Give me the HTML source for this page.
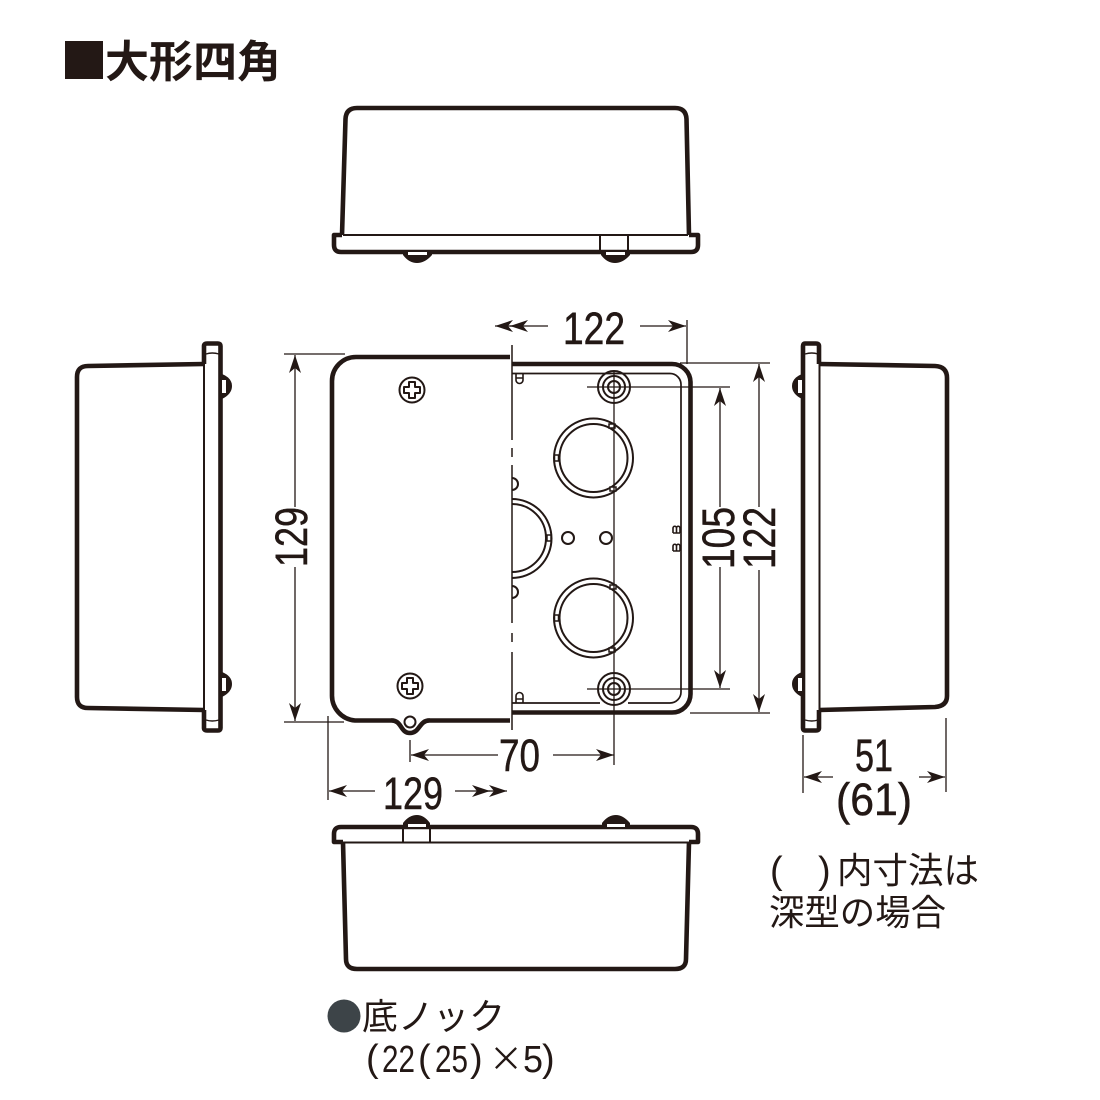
<!DOCTYPE html>
<html><head><meta charset="utf-8">
<style>
html,body{margin:0;padding:0;background:#fff;width:1100px;height:1100px;overflow:hidden}
svg{display:block}
.h{fill:none;stroke:#231815;stroke-width:4.6;stroke-linejoin:round}
.m{fill:none;stroke:#231815;stroke-width:2}
.t{fill:none;stroke:#231815;stroke-width:1.4}
.d{fill:none;stroke:#231815;stroke-width:1.3}
.n{font-family:"Liberation Sans",sans-serif;font-size:45px;fill:#231815;stroke:#231815;stroke-width:.5}
.j{font-family:"Liberation Sans","Noto Sans CJK JP",sans-serif;fill:#231815}
.p{font-family:"Liberation Sans",sans-serif;font-size:38px;fill:#231815}
</style></head><body>
<svg width="1100" height="1100" viewBox="0 0 1100 1100" xmlns="http://www.w3.org/2000/svg">
<defs>
<marker id="ar" markerUnits="userSpaceOnUse" markerWidth="24" markerHeight="16" refX="20" refY="8" orient="auto" overflow="visible">
<path d="M20,8 L2,2 L7,8 L2,14Z" fill="#231815"/>
</marker>
</defs>
<rect x="65" y="41" width="38" height="38" fill="#231815"/>
<text class="j" x="105" y="77" font-size="44" font-weight="700" textLength="176" lengthAdjust="spacingAndGlyphs">大形四角</text>

<!-- top view -->
<path class="h" d="M342,235 L345.500,119 Q346,108 357,108 L675,108 Q686,108 686.500,119 L689,235"/>
<path class="h" d="M342,235 H334 V245 Q334,252 341,252 H691 Q698,252 698,245 V235 H689"/>
<path class="m" d="M343,235 H688"/>
<path class="m" d="M600,236 V252 M628,236 V252"/>
<path d="M403,252 H432 V255 Q425,263 417,263 Q409,263 403,255Z M601,252 H630 V255 Q623,263 615,263 Q607,263 601,255Z" fill="#231815"/>
<path d="M408,252 H427 V255 H408Z M606,252 H625 V255 H606Z" fill="#fff"/>

<!-- bottom view -->
<path class="h" d="M343,842 L346,959 Q346,969 357,969 L675,969 Q686,969 686,959 L689,842"/>
<path class="h" d="M343,842 H334 V834 Q334,827 341,827 H691 Q698,827 698,834 V842 H689"/>
<path class="m" d="M343,842.500 H689"/>
<path class="m" d="M403,827 V842 M430,827 V842"/>
<path d="M403,827 V823 Q409,815 417,815 Q424,815 430,823 V827Z M602,827 V823 Q608,815 616,815 Q623,815 630,823 V827Z" fill="#231815"/>
<path d="M408,827 V824 H426 V827Z M607,827 V824 H625 V827Z" fill="#fff"/>

<!-- left view -->
<path class="h" d="M204,364 L88,366 Q77,366 77,377 L77,697 Q77,708 88,708 L204,710"/>
<path class="h" d="M204,364 V346 Q204,343.500 207,343.500 H218 Q220.500,343.500 220.500,346 V728 Q220.500,730.500 218,730.500 H207 Q204,730.500 204,728 V710"/>
<path class="m" d="M204,363 V711"/>
<path class="t" d="M206,354 Q212,352 219,354 M206,720 Q212,722 219,720"/>
<path d="M222,374 Q232,378 232,386 Q232,394 222,399Z M222,672 Q232,676 232,684 Q232,692 222,697Z" fill="#231815"/>
<path d="M222,380 H226 V393 H222Z M222,678 H226 V691 H222Z" fill="#fff"/>

<!-- right view -->
<path class="h" d="M819,364 L935,366 Q947,366.500 947,378 L947,696 Q947,706 935,707 L819,710"/>
<path class="h" d="M819,364 V346 Q819,343.500 816,343.500 H805 Q803,343.500 803,346 V728 Q803,730.500 805,730.500 H816 Q819,730.500 819,728 V710"/>
<path class="m" d="M819.500,363 V711"/>
<path class="t" d="M805,354 Q812,352 818,354 M805,720 Q812,722 818,720"/>
<path d="M802,374 Q792,378 792,386 Q792,394 802,399Z M802,672 Q792,676 792,684 Q792,692 802,697Z" fill="#231815"/>
<path d="M798,380 H802 V393 H798Z M798,678 H802 V691 H798Z" fill="#fff"/>

<!-- box -->
<path class="h" d="M512,364 H672 A18.500,18.500 0 0 1 690.500,382.500 V694 A18.500,18.500 0 0 1 672,712.500 H512"/>
<path class="m" d="M512,373.500 H670 A11,11 0 0 1 681,384.500 V692 A11,11 0 0 1 670,703 H628 M600,703 H512" style="stroke-width:1.700"/>
<circle cx="614" cy="387" r="16" class="m"/><circle cx="614" cy="387" r="11" class="m"/><circle cx="614" cy="387" r="6" class="m"/>
<circle cx="614" cy="689" r="16" class="m"/><circle cx="614" cy="689" r="11" class="m"/><circle cx="614" cy="689" r="6" class="m"/>
<circle cx="593.500" cy="458" r="39.500" class="m"/><circle cx="593.500" cy="458" r="34" class="m"/>
<circle cx="593.500" cy="618" r="39.500" class="m"/><circle cx="593.500" cy="618" r="34" class="m"/>
<g fill="#fff" stroke="#231815" stroke-width="1.500">
<rect x="554.500" y="455" width="4" height="6"/><rect x="609" y="424" width="6" height="4"/><rect x="610" y="487" width="6" height="4"/>
<rect x="554.500" y="615" width="4" height="6"/><rect x="610" y="585" width="6" height="4"/><rect x="609" y="648" width="6" height="4"/>
</g>
<path class="m" d="M512,499 A39.500,39.500 0 0 1 512,578 M512,504 A34,34 0 0 1 512,572"/>
<rect x="547" y="535" width="4" height="6" fill="#fff" stroke="#231815" stroke-width="1.500"/>
<circle cx="568" cy="538" r="6" class="m"/><circle cx="606" cy="538" r="6" class="m"/>
<path class="m" d="M512,478 A6,6 0 0 1 512,490 M512,586 A6,6 0 0 1 512,598"/>
<path class="t" style="stroke-width:1.600" d="M516,374 V380 A3.500,3.500 0 0 0 523,380 V374 M516,378 H523 M516,703 V696 A3.500,3.500 0 0 1 523,696 V703 M516,699 H523"/>
<path class="t" style="stroke-width:1.600" d="M673,533 V528 A1.750,1.750 0 0 1 676.500,528 V533 M676.500,528 A1.750,1.750 0 0 1 680,528 V533 M673,551 V546 A1.750,1.750 0 0 1 676.500,546 V551 M676.500,546 A1.750,1.750 0 0 1 680,546 V551 M673,533 H680 M673,551 H680"/>
<path class="m" style="stroke-width:1.500" d="M512,345 V440 M512,448 V457 M512,465 V623 M512,633 V642 M512,652 V730"/>

<!-- cover -->
<path d="M510,357 H356 A24,24 0 0 0 332,381 V695 A25,25 0 0 0 355,720.500 H391 C402,720 400,733 410,733 C420,733 419,720 430,720.500 H510Z" fill="#fff" stroke="none"/>
<path class="h" d="M510,357 H356 A24,24 0 0 0 332,381 V695 A25,25 0 0 0 355,720.500 H391 C402,720 400,733 410,733 C420,733 419,720 430,720.500 H510"/>
<circle cx="410" cy="722" r="5.500" class="m"/>
<circle cx="412" cy="390" r="12.500" class="m"/>
<path class="m" d="M409,382 H415 V387 H420 V393 H415 V398 H409 V393 H404 V387 H409Z" stroke-linejoin="round"/>
<circle cx="410" cy="686" r="12.500" class="m"/>
<path class="m" d="M407,678 H413 V683 H418 V689 H413 V694 H407 V689 H402 V683 H407Z" stroke-linejoin="round"/>

<!-- dims -->
<g class="d">
<path d="M687,320 V364"/>
<path d="M548,326 H495" marker-end="url(#ar)"/><path d="M520,326 H510" marker-end="url(#ar)"/>
<path d="M640,326 H686" marker-end="url(#ar)"/>
<path d="M284,354 H345 M284,722 H344"/>
<path d="M295,507 V355" marker-end="url(#ar)"/><path d="M295,567 V721" marker-end="url(#ar)"/>
<path d="M328,716 V800"/>
<path d="M375,791 H329" marker-end="url(#ar)"/>
<path d="M455,791 H490" marker-end="url(#ar)"/><path d="M485,791 H507" marker-end="url(#ar)"/>
<path d="M410,740 V762"/>
<path d="M498,755 H411" marker-end="url(#ar)"/>
<path d="M553,755 H614" marker-end="url(#ar)"/>
<path d="M614,372 V765"/>
<path d="M587,387 H730 M587,689 H730"/>
<path d="M720,507 V388" marker-end="url(#ar)"/><path d="M720,567 V688" marker-end="url(#ar)"/>
<path d="M680,363 H770 M690,713 H770"/>
<path d="M759,507 V364" marker-end="url(#ar)"/><path d="M759,570 V712" marker-end="url(#ar)"/>
<path d="M803,735 V793 M946,718 V792"/>
<path d="M833,777 H804" marker-end="url(#ar)"/><path d="M919,777 H945" marker-end="url(#ar)"/>
</g>
<text class="n" x="563" y="344" textLength="62" lengthAdjust="spacingAndGlyphs">122</text>
<text class="n" transform="translate(307,567) rotate(-90)" textLength="60" lengthAdjust="spacingAndGlyphs">129</text>
<text class="n" transform="translate(734,569) rotate(-90)" textLength="62" lengthAdjust="spacingAndGlyphs">105</text>
<text class="n" transform="translate(775,569) rotate(-90)" textLength="62" lengthAdjust="spacingAndGlyphs">122</text>
<text class="n" x="499" y="771" textLength="41" lengthAdjust="spacingAndGlyphs">70</text>
<text class="n" x="383" y="809" textLength="60" lengthAdjust="spacingAndGlyphs">129</text>
<text class="n" x="855" y="771" textLength="38" lengthAdjust="spacingAndGlyphs">51</text>
<text class="n" x="836" y="815" textLength="76" lengthAdjust="spacingAndGlyphs">(61)</text>

<text class="p" x="770" y="883" font-size="38">(</text>
<text class="p" x="818" y="883" font-size="38">)</text>
<text class="j" x="837" y="883" font-size="36" textLength="142" lengthAdjust="spacingAndGlyphs">内寸法は</text>
<text class="j" x="769" y="925" font-size="36" textLength="177" lengthAdjust="spacingAndGlyphs">深型の場合</text>
<circle cx="344" cy="1016" r="16.500" fill="#3d4448"/>
<text class="j" x="362" y="1029" font-size="36" textLength="143" lengthAdjust="spacingAndGlyphs">底ノック</text>
<text class="p" x="366" y="1071">(</text>
<text class="p" x="382" y="1072" textLength="33" lengthAdjust="spacingAndGlyphs">22</text>
<text class="p" x="418" y="1071">(</text>
<text class="p" x="435" y="1072" textLength="33" lengthAdjust="spacingAndGlyphs">25</text>
<text class="p" x="470" y="1071">)</text>
<text x="506" y="1071" text-anchor="middle" font-size="34" fill="#231815" font-family="'Noto Sans CJK JP',sans-serif">×</text>
<text class="p" x="523" y="1072" textLength="20" lengthAdjust="spacingAndGlyphs">5</text>
<text class="p" x="542" y="1071">)</text>
</svg>
</body></html>
